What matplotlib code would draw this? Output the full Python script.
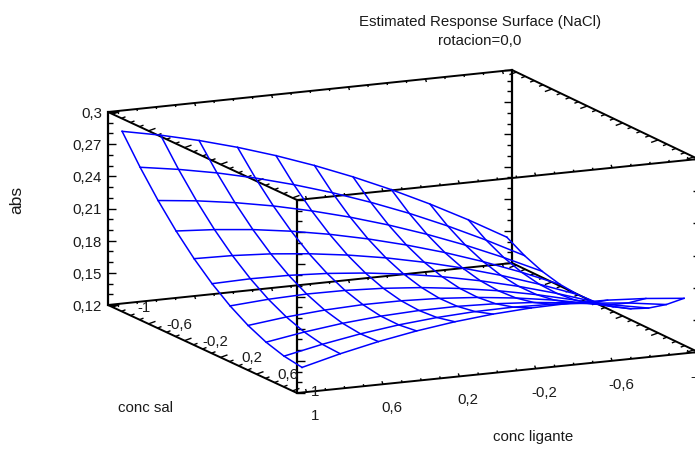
import numpy as np
import matplotlib
matplotlib.use('Agg')
import matplotlib.pyplot as plt

plt.rcParams['font.family'] = ['Liberation Sans', 'DejaVu Sans']

# grid of the fitted surface
conc_sal = [-1.0, -0.8, -0.6, -0.4, -0.2, 0.0, 0.2, 0.4, 0.6, 0.8, 1.0]
conc_ligante = [1.0, 0.8, 0.6, 0.4, 0.2, 0.0, -0.2, -0.4, -0.6, -0.8, -1.0]

# abs, one row per conc sal, columns follow conc_ligante
abs_values = np.array([
    [.2830, .2757, .2670, .2569, .2454, .2325, .2182, .2025, .1854, .1669, .1470],
    [.2573, .2516, .2446, .2361, .2262, .2150, .2023, .1883, .1728, .1559, .1377],
    [.2341, .2301, .2247, .2179, .2096, .2000, .1890, .1766, .1628, .1475, .1309],
    [.2135, .2111, .2074, .2022, .1956, .1876, .1782, .1675, .1553, .1417, .1267],
    [.1955, .1947, .1926, .1890, .1841, .1778, .1700, .1609, .1504, .1384, .1251],
    [.1800, .1809, .1804, .1785, .1752, .1705, .1644, .1569, .1480, .1377, .1260],
    [.1671, .1696, .1708, .1705, .1688, .1658, .1613, .1555, .1482, .1395, .1295],
    [.1567, .1609, .1637, .1651, .1650, .1636, .1608, .1566, .1510, .1439, .1355],
    [.1489, .1547, .1592, .1622, .1638, .1640, .1628, .1603, .1563, .1509, .1441],
    [.1437, .1511, .1572, .1619, .1651, .1670, .1675, .1665, .1639, .1604, .1553],
    [.1410, .1501, .1578, .1641, .1690, .1725, .1746, .1753, .1746, .1725, .1690],
])

abs_ticks = [0.12, 0.15, 0.18, 0.21, 0.24, 0.27, 0.3]
abs_labels = ['0,12', '0,15', '0,18', '0,21', '0,24', '0,27', '0,3']
sal_ticks = [-1.0, -0.6, -0.2, 0.2, 0.6, 1.0]
sal_labels = ['-1', '-0,6', '-0,2', '0,2', '0,6', '1']
lig_ticks = [1.0, 0.6, 0.2, -0.2, -0.6, -1.0]
lig_labels = ['1', '0,6', '0,2', '-0,2', '-0,6', '-1']

# axis limits and where the box corners fall on the canvas
LIM = 1.05
Z0, Z1 = 0.12, 0.30
ZH = 193.0
LEFT = (108, 305)
FRONT = (297, 393)
RIGHT = (698, 352)
BACK = (512, 263)


def project(s, l, z):
    u = (np.asarray(s) + LIM) / (2 * LIM)
    v = (LIM - np.asarray(l)) / (2 * LIM)
    px = LEFT[0]*(1-u)*(1-v) + FRONT[0]*u*(1-v) + RIGHT[0]*u*v + BACK[0]*(1-u)*v
    py = LEFT[1]*(1-u)*(1-v) + FRONT[1]*u*(1-v) + RIGHT[1]*u*v + BACK[1]*(1-u)*v
    py = py - (np.asarray(z) - Z0) / (Z1 - Z0) * ZH
    return px, py


fig = plt.figure(figsize=(6.95, 4.49), dpi=100)
ax = fig.add_axes([0, 0, 1, 1])
ax.set_xlim(0, 695)
ax.set_ylim(449, 0)
ax.axis('off')

# box
corners = {'L': (-LIM, LIM), 'F': (LIM, LIM), 'R': (LIM, -LIM), 'B': (-LIM, -LIM)}
for a, b in ['LF', 'FR', 'RB', 'BL']:
    for z in (Z0, Z1):
        x0, y0 = project(*corners[a], z)
        x1, y1 = project(*corners[b], z)
        ax.plot([x0, x1], [y0, y1], color='black', lw=1.4, solid_capstyle='round')
for c in 'LFRB':
    x0, y0 = project(*corners[c], Z0)
    x1, y1 = project(*corners[c], Z1)
    ax.plot([x0, x1], [y0, y1], color='black', lw=1.6)


def tick(px, py, dx, dy):
    ax.plot([px, px + dx], [py, py + dy], color='black', lw=1.0, solid_capstyle='butt')


# vertical ticks, one every 0.01
for i in range(19):
    z = 0.12 + i * 0.01
    major = i % 3 == 0
    n = 8 if major else 5
    tick(*project(-LIM, LIM, z), n, 0)
    tick(*project(LIM, LIM, z), n, 0)
    tick(*project(-LIM, -LIM, z), -n, 0)
    if major:
        tick(*project(LIM, -LIM, z), -5, 0)

# floor and roof ticks, one every 0.1
for i in range(21):
    t = -1 + i * 0.1
    major = i % 4 == 0
    for z in (Z0, Z1):
        a, b = (7, -2.5) if major else (4, -1.5)
        tick(*project(t, LIM, z), a, b)
        tick(*project(t, -LIM, z), -a, -b)
        a, b = (-1, -3) if major else (-0.5, -2)
        tick(*project(LIM, t, z), a, b)
        tick(*project(-LIM, t, z), -a, -b)

# surface
S, L = np.meshgrid(conc_sal, conc_ligante, indexing='ij')
PX, PY = project(S, L, abs_values)
for i in range(len(conc_sal)):
    ax.plot(PX[i, :], PY[i, :], color='#0000ff', lw=1.1)
for j in range(len(conc_ligante)):
    ax.plot(PX[:, j], PY[:, j], color='#0000ff', lw=1.1)

# labels
fs = 10.8
ink = '#1a1a1a'
for z, lab in zip(abs_ticks, abs_labels):
    px, py = project(-LIM, LIM, z)
    ax.text(px - 6, py + 2, lab, ha='right', va='center', fontsize=fs, color=ink)
for s, lab in zip(sal_ticks, sal_labels):
    px, py = project(s, LIM, Z0)
    if lab == '1':
        px = px - 8
    ax.text(px + 31, py + 1, lab, ha='center', va='center', fontsize=fs, color=ink)
for l, lab in zip(lig_ticks, lig_labels):
    px, py = project(LIM, l, Z0)
    ax.text(px + 9, py + 24, lab, ha='center', va='center', fontsize=fs, color=ink)

ax.text(17, 200, 'abs', rotation=90, ha='center', va='center', fontsize=12.5, color=ink)
ax.text(146, 408, 'conc sal', ha='center', va='center', fontsize=fs, color=ink)
ax.text(533, 437, 'conc ligante', ha='center', va='center', fontsize=fs, color=ink)
ax.text(480, 22, 'Estimated Response Surface (NaCl)', ha='center', va='center', fontsize=fs, color=ink)
ax.text(480, 41, 'rotacion=0,0', ha='center', va='center', fontsize=fs, color=ink)

fig.savefig('out.png', dpi=100)
